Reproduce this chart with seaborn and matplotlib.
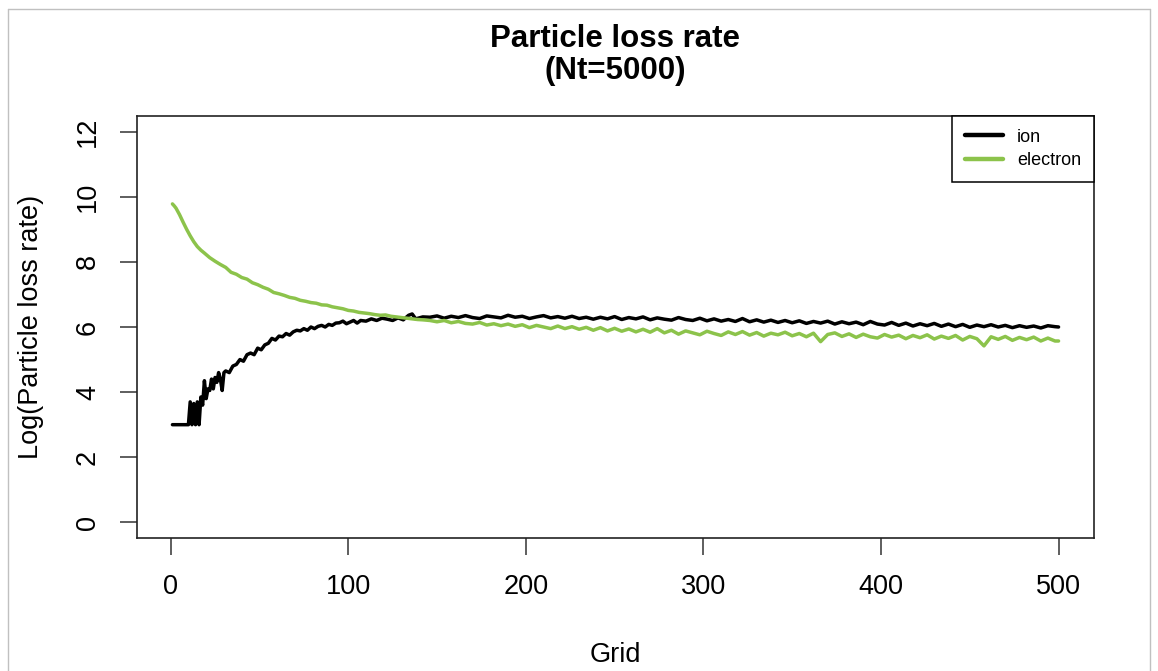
import numpy as np
import pandas as pd
import matplotlib
matplotlib.use("Agg")
import matplotlib.pyplot as plt
import seaborn as sns
from matplotlib.lines import Line2D

# ---------------- data ----------------
ion_grid_early = [1, 10, 11, 12, 13, 14, 15, 16, 17, 18, 19, 20, 21, 22, 23, 24, 25, 26,
                  27, 28, 29, 30, 31, 33, 35, 37, 39, 41, 43, 45, 47, 49, 51, 53, 55, 57,
                  59, 61, 63, 65, 67, 69, 71, 73, 75, 77, 79, 81, 83, 85, 87, 89, 91, 93,
                  95, 97, 99, 101, 103, 105, 107, 110, 113, 116, 119, 122, 125, 128, 131,
                  134, 136, 138, 142]
ion_early = [3.0, 3.0, 3.7, 3.0, 3.65, 3.0, 3.7, 3.0, 3.85, 3.6, 4.35, 3.8, 4.1, 4.05,
             4.4, 4.1, 4.45, 4.3, 4.6, 4.4, 4.05, 4.6, 4.65, 4.6, 4.8, 4.85, 5.0, 4.95,
             5.15, 5.2, 5.15, 5.35, 5.3, 5.45, 5.5, 5.65, 5.6, 5.72, 5.7, 5.8, 5.75, 5.85,
             5.9, 5.88, 5.95, 5.9, 6.0, 5.95, 6.02, 6.05, 6.0, 6.08, 6.05, 6.12, 6.13,
             6.18, 6.1, 6.15, 6.2, 6.12, 6.2, 6.18, 6.25, 6.2, 6.27, 6.24, 6.2, 6.28,
             6.22, 6.36, 6.4, 6.25, 6.31]
late_grid = list(range(146, 499, 4)) + [500]
ion_late = [6.30, 6.34, 6.27, 6.33, 6.29, 6.35, 6.29, 6.26, 6.34, 6.31,
            6.28, 6.36, 6.30, 6.33, 6.26, 6.31, 6.35, 6.28, 6.32, 6.27,
            6.33, 6.26, 6.30, 6.24, 6.30, 6.25, 6.32, 6.23, 6.29, 6.25,
            6.31, 6.22, 6.28, 6.24, 6.21, 6.29, 6.23, 6.20, 6.27, 6.19,
            6.25, 6.18, 6.23, 6.17, 6.26, 6.16, 6.22, 6.15, 6.21, 6.14,
            6.20, 6.13, 6.19, 6.11, 6.17, 6.12, 6.18, 6.09, 6.16, 6.10,
            6.15, 6.07, 6.17, 6.09, 6.06, 6.14, 6.05, 6.12, 6.03, 6.10,
            6.04, 6.11, 6.02, 6.09, 6.01, 6.08, 5.99, 6.06, 6.01, 6.07,
            6.00, 6.05, 5.98, 6.04, 5.99, 6.03, 5.97, 6.04, 6.01,
            6.00]

ele_grid_early = [1, 2, 3, 5, 7, 9, 11, 13, 15, 17, 19, 22, 25, 28, 31, 34, 37, 40, 43,
                  46, 49, 52, 55, 58, 61, 64, 67, 70, 73, 76, 79, 82, 85, 88, 91, 94, 97,
                  100, 103, 106, 109, 112, 115, 118, 121, 124, 127, 130, 133, 136, 139, 142]
ele_early = [9.78, 9.72, 9.65, 9.45, 9.22, 9.0, 8.8, 8.62, 8.47, 8.36, 8.27, 8.13, 8.02,
             7.92, 7.83, 7.68, 7.62, 7.52, 7.47, 7.36, 7.3, 7.22, 7.16, 7.06, 7.02, 6.97,
             6.91, 6.88, 6.82, 6.79, 6.75, 6.73, 6.68, 6.67, 6.62, 6.59, 6.56, 6.51,
             6.49, 6.45, 6.43, 6.41, 6.38, 6.36, 6.37, 6.33, 6.31, 6.29, 6.27, 6.25,
             6.23, 6.22]
ele_late = [6.20, 6.16, 6.20, 6.13, 6.17, 6.11, 6.09, 6.14, 6.06, 6.10,
            6.04, 6.09, 6.02, 6.07, 5.98, 6.05, 6.00, 5.95, 6.03, 5.95,
            6.01, 5.93, 5.99, 5.90, 5.98, 5.88, 5.96, 5.87, 5.94, 5.85,
            5.93, 5.84, 5.95, 5.82, 5.90, 5.78, 5.88, 5.82, 5.76, 5.87,
            5.80, 5.74, 5.85, 5.77, 5.86, 5.75, 5.83, 5.72, 5.81, 5.76,
            5.84, 5.73, 5.80, 5.70, 5.81, 5.55, 5.77, 5.82, 5.71, 5.79,
            5.68, 5.78, 5.70, 5.66, 5.77, 5.69, 5.75, 5.64, 5.74, 5.67,
            5.76, 5.63, 5.72, 5.65, 5.74, 5.60, 5.71, 5.64, 5.42, 5.70,
            5.62, 5.71, 5.59, 5.68, 5.61, 5.69, 5.57, 5.66, 5.57,
            5.57]

series_names = ["ion", "electron"]
series_colors = ["#000000", "#8cc34b"]
x_ticks = [0, 100, 200, 300, 400, 500]
y_ticks = [0, 2, 4, 6, 8, 10, 12]
title_lines = ["Particle loss rate", "(Nt=5000)"]
x_label = "Grid"
y_label = "Log(Particle loss rate)"

ion_df = pd.DataFrame({"Grid": ion_grid_early + late_grid, "rate": ion_early + ion_late})
ele_df = pd.DataFrame({"Grid": ele_grid_early + late_grid, "rate": ele_early + ele_late})

# ---------------- style ----------------
sns.set_theme(style="ticks", rc={"text.color": "black", "axes.labelcolor": "black",
                                 "xtick.color": "#333333", "ytick.color": "#333333"})
plt.rcParams["font.family"] = ["Liberation Sans", "DejaVu Sans"]

W, H = 1158, 671
fig = plt.figure(figsize=(W / 100, H / 100), dpi=100)
ax = fig.add_axes([137 / W, 1 - 538 / H, (1094 - 137) / W, (538 - 116) / H])

sns.lineplot(data=ion_df, x="Grid", y="rate", ax=ax, color=series_colors[0],
             linewidth=2.5, estimator=None, sort=False, label=series_names[0])
sns.lineplot(data=ele_df, x="Grid", y="rate", ax=ax, color=series_colors[1],
             linewidth=2.5, estimator=None, sort=False, label=series_names[1])

ax.set_xlim(-18.96, 519.96)
ax.set_ylim(-0.48, 12.48)
ax.set_xticks(x_ticks)
ax.set_yticks(y_ticks)
ax.tick_params(axis="both", direction="out", length=12, width=1.1,
               labelsize=19.5, labelcolor="black")
ax.tick_params(axis="x", pad=14)
ax.tick_params(axis="y", pad=14)
for lbl in ax.get_yticklabels():
    lbl.set_rotation(90)
    lbl.set_va("center")
for s in ax.spines.values():
    s.set_visible(True)
    s.set_linewidth(1.2)
    s.set_color("#222222")

ax.set_xlabel(x_label, fontsize=19.5, labelpad=30, color="black")
ax.set_ylabel(y_label, fontsize=19.5, labelpad=22, color="black")

handles = [Line2D([], [], color=c, linewidth=3.2) for c in series_colors]
leg = ax.legend(handles, series_names, loc="upper right", borderaxespad=0,
                fancybox=False, framealpha=1, edgecolor="black", fontsize=13,
                handlelength=2.1, handletextpad=0.8, labelspacing=0.35, borderpad=0.7)
leg.get_frame().set_linewidth(1.1)
for t in leg.get_texts():
    t.set_color("black")

cx = (137 + 1094) / 2 / W
fig.text(cx, 1 - 47 / H, title_lines[0], ha="center", va="baseline",
         fontsize=22.5, fontweight="bold", color="black")
fig.text(cx, 1 - 79 / H, title_lines[1], ha="center", va="baseline",
         fontsize=22.5, fontweight="bold", color="black")

# thin gray frame of the original image
frame_color = "#c0c0c0"
fig.add_artist(Line2D([8 / W, 1150 / W], [1 - 9 / H, 1 - 9 / H], color=frame_color, lw=1.0))
fig.add_artist(Line2D([8 / W, 8 / W], [0, 1 - 9 / H], color=frame_color, lw=1.0))
fig.add_artist(Line2D([1150 / W, 1150 / W], [0, 1 - 9 / H], color=frame_color, lw=1.0))

fig.savefig("out.png", dpi=100)
